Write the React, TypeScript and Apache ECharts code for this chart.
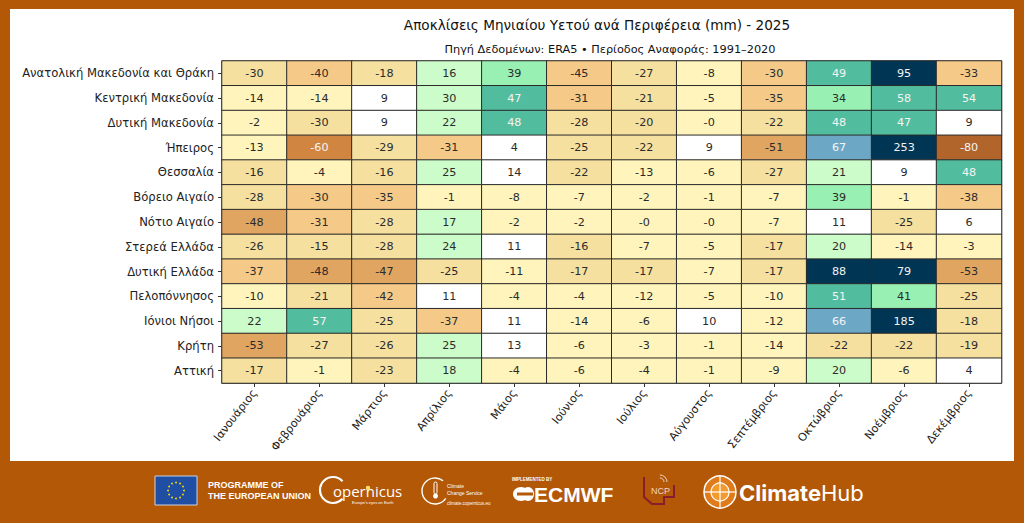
import React, { useEffect, useRef } from "react";
import * as echarts from "echarts";

const months = [
  "Ιανουάριος", "Φεβρουάριος", "Μάρτιος", "Απρίλιος", "Μάιος", "Ιούνιος",
  "Ιούλιος", "Αύγουστος", "Σεπτέμβριος", "Οκτώβριος", "Νοέμβριος", "Δεκέμβριος",
];

const regions = [
  "Ανατολική Μακεδονία και Θράκη", "Κεντρική Μακεδονία", "Δυτική Μακεδονία", "Ήπειρος",
  "Θεσσαλία", "Βόρειο Αιγαίο", "Νότιο Αιγαίο", "Στερεά Ελλάδα", "Δυτική Ελλάδα",
  "Πελοπόννησος", "Ιόνιοι Νήσοι", "Κρήτη", "Αττική",
];

// monthly precipitation anomalies (mm), one row per region
const anomalies: number[][] = [
  [-29.6, -40, -18, 16, 39, -44.6, -27, -8, -30.4, 49, 95, -33],
  [-14, -14, 9, 29.7, 47, -31, -21, -5, -35, 34, 58, 54],
  [-2, -29.8, 9, 22, 48, -28, -20, -0.3, -22, 48, 47, 9],
  [-13, -60.3, -29, -31, 4, -25, -22, 9, -51, 67, 253, -80],
  [-16, -4, -16, 25, 14, -22, -13, -6, -27, 21, 9, 48],
  [-28, -30.3, -35, -1, -8, -7, -2, -1, -7, 39, -1, -38],
  [-48, -31, -28, 17, -2, -2, -0.3, -0.3, -7, 11, -25, 6],
  [-26, -15.2, -28, 24, 11, -16, -7, -5, -17, 20, -14, -3],
  [-37, -48, -47, -25, -11, -17, -17, -7, -17, 88, 79, -53],
  [-10, -21, -42, 11, -4, -4, -12, -5, -10, 51, 41, -25],
  [22, 57, -25, -37, 11, -14, -6, 10, -12, 66, 185, -18],
  [-53, -27, -26, 25, 13, -6, -3, -1, -14, -22, -22, -19],
  [-17, -1, -23, 18, -4, -6, -4, -1, -9, 20, -6, 4],
];

const binEdges = [-75, -60, -45, -30, -15, 0, 15, 30, 45, 60, 75];
const binColors = [
  "#b1652b", "#d08540", "#e0a560", "#f5ca88", "#f5e0a0", "#fff4bb",
  "#ffffff", "#ccfcc9", "#98f0b2", "#52bd9e", "#6ca8c6", "#003554",
];

const title = "Αποκλίσεις Μηνιαίου Υετού ανά Περιφέρεια (mm) - 2025";
const subtitle = "Πηγή Δεδομένων: ERA5 • Περίοδος Αναφοράς: 1991–2020";

const FONT = "DejaVu Sans";

function fmt(v: number): string {
  const r = Math.round(v);
  if (r === 0 && v < 0) return "-0";
  return String(r);
}

function buildPieces() {
  const pieces: any[] = [];
  for (let i = 0; i < binColors.length; i++) {
    const p: any = { color: binColors[i] };
    if (i > 0) p.gte = binEdges[i - 1];
    if (i < binEdges.length) p.lt = binEdges[i];
    pieces.push(p);
  }
  return pieces;
}

function buildData() {
  const out: any[] = [];
  anomalies.forEach((row, yi) => {
    row.forEach((v, xi) => {
      const light = v < -60 || v >= 45;
      out.push({
        value: [xi, yi, v],
        label: { color: light ? "#f4f4f4" : "#2b2b2b" },
      });
    });
  });
  return out;
}

function graphics() {
  const g: any[] = [];
  // white panel
  g.push({ type: "rect", silent: true, z: -10, shape: { x: 10, y: 9, width: 1004, height: 452 }, style: { fill: "#ffffff" } });
  // titles
  g.push({ type: "text", style: { x: 597, y: 25, text: title, fill: "#111111", font: `13.6px "${FONT}"`, textAlign: "center", textVerticalAlign: "middle" } });
  g.push({ type: "text", style: { x: 610, y: 49, text: subtitle, fill: "#111111", font: `11.3px "${FONT}"`, textAlign: "center", textVerticalAlign: "middle" } });
  // EU flag
  g.push({ type: "rect", shape: { x: 155, y: 476, width: 42, height: 29 }, style: { fill: "#1f4ea3", stroke: "#c9d3e6", lineWidth: 1 } });
  for (let k = 0; k < 12; k++) {
    const a = (k * Math.PI) / 6;
    g.push({ type: "circle", shape: { cx: 176 + 8 * Math.cos(a), cy: 490.5 + 8 * Math.sin(a), r: 0.9 }, style: { fill: "#ffdd00" } });
  }
  g.push({ type: "text", style: { x: 208, y: 485, text: "PROGRAMME OF", fill: "#ffffff", font: 'bold 9px "Liberation Sans"', textVerticalAlign: "middle" } });
  g.push({ type: "text", style: { x: 208, y: 496, text: "THE EUROPEAN UNION", fill: "#ffffff", font: 'bold 9px "Liberation Sans"', textVerticalAlign: "middle" } });
  // Copernicus
  g.push({ type: "arc", shape: { cx: 333, cy: 490, r: 13, startAngle: 0.75, endAngle: 2 * Math.PI - 0.75, clockwise: true }, style: { stroke: "#ffffff", lineWidth: 2.2, fill: "none" } });
  g.push({ type: "text", style: { x: 333, y: 491, text: "opernicus", fill: "#ffffff", font: '15px "Open Sans"', textVerticalAlign: "middle" } });
  g.push({ type: "circle", shape: { cx: 368, cy: 488, r: 2.2 }, style: { fill: "#ffe066" } });
  g.push({ type: "text", style: { x: 352, y: 502, text: "Europe's eyes on Earth", fill: "#ffffff", font: '4px "Liberation Sans"', textVerticalAlign: "middle" } });
  // Climate Change Service
  g.push({ type: "arc", shape: { cx: 435, cy: 491, r: 13, startAngle: 0.6, endAngle: 2 * Math.PI - 0.9, clockwise: true }, style: { stroke: "#ffffff", lineWidth: 1.4, fill: "none" } });
  g.push({ type: "rect", shape: { x: 434, y: 482, width: 3, height: 12, r: 1.5 }, style: { fill: "none", stroke: "#ffffff", lineWidth: 1 } });
  g.push({ type: "circle", shape: { cx: 435.5, cy: 496, r: 2.5 }, style: { fill: "#ffffff" } });
  g.push({ type: "text", style: { x: 447, y: 486, text: "Climate", fill: "#ffffff", font: '5px "Liberation Sans"', textVerticalAlign: "middle" } });
  g.push({ type: "text", style: { x: 447, y: 493, text: "Change Service", fill: "#ffffff", font: '5px "Liberation Sans"', textVerticalAlign: "middle" } });
  g.push({ type: "text", style: { x: 447, y: 503, text: "climate.copernicus.eu", fill: "#ffffff", font: '4.5px "Liberation Sans"', textVerticalAlign: "middle" } });
  // ECMWF
  g.push({ type: "text", style: { x: 512, y: 479, text: "IMPLEMENTED BY", fill: "#ffffff", font: 'bold 4.5px "Liberation Sans"', textVerticalAlign: "middle" } });
  g.push({ type: "ellipse", shape: { cx: 521, cy: 494, rx: 8, ry: 7 }, style: { fill: "#ffffff" } });
  g.push({ type: "ellipse", shape: { cx: 528, cy: 494, rx: 6, ry: 7 }, style: { fill: "#ffffff" } });
  g.push({ type: "rect", shape: { x: 517, y: 492.5, width: 16, height: 3 }, style: { fill: "#b35806" } });
  g.push({ type: "text", style: { x: 534, y: 494, text: "ECMWF", fill: "#ffffff", font: 'bold 21px "Liberation Sans"', textVerticalAlign: "middle" } });
  // NCP
  g.push({ type: "polyline", shape: { points: [[644, 477], [644, 497], [652, 504], [664, 504], [664, 497], [674, 497], [674, 485]] }, style: { stroke: "#8b1c2c", lineWidth: 2, fill: "none" } });
  g.push({ type: "arc", shape: { cx: 660, cy: 482, r: 4, startAngle: -1.6, endAngle: 0, clockwise: true }, style: { stroke: "#f3d2c4", lineWidth: 1, fill: "none" } });
  g.push({ type: "arc", shape: { cx: 660, cy: 482, r: 7, startAngle: -1.6, endAngle: 0, clockwise: true }, style: { stroke: "#f3d2c4", lineWidth: 1, fill: "none" } });
  g.push({ type: "text", style: { x: 651, y: 491, text: "NCP", fill: "#f3d2c4", font: '9px "Liberation Sans"', textVerticalAlign: "middle" } });
  // ClimateHub
  g.push({ type: "circle", shape: { cx: 720, cy: 492, r: 16 }, style: { fill: "#e07b1c", stroke: "#ffffff", lineWidth: 1.5 } });
  g.push({ type: "circle", shape: { cx: 720, cy: 492, r: 9 }, style: { fill: "#f29a2e", stroke: "#ffffff", lineWidth: 1.2 } });
  g.push({ type: "line", shape: { x1: 720, y1: 476, x2: 720, y2: 508 }, style: { stroke: "#ffffff", lineWidth: 1.2 } });
  g.push({ type: "line", shape: { x1: 704, y1: 492, x2: 736, y2: 492 }, style: { stroke: "#ffffff", lineWidth: 1.2 } });
  g.push({ type: "text", style: { x: 739, y: 493, text: "{b|Climate}{n|Hub}", fill: "#ffffff", textVerticalAlign: "middle", rich: { b: { fontFamily: "Inter", fontWeight: "bold", fontSize: 22, color: "#ffffff" }, n: { fontFamily: "Inter", fontWeight: "normal", fontSize: 22, color: "#ffffff" } } } });
  return g;
}

export default function App() {
  const ref = useRef<HTMLDivElement>(null);
  useEffect(() => {
    if (!ref.current) return;
    const chart = echarts.init(ref.current, undefined, { renderer: "svg" });
    chart.setOption({
      animation: false,
      backgroundColor: "#b35806",
      textStyle: { fontFamily: FONT },
      grid: { left: 222, right: 22.5, top: 61, bottom: 140, show: true, borderColor: "#7a7a7a", borderWidth: 1.2, backgroundColor: "transparent" },
      xAxis: {
        type: "category",
        data: months,
        axisLine: { show: true, lineStyle: { color: "#7a7a7a", width: 1.2 } },
        axisTick: { show: true, alignWithLabel: true, length: 4, lineStyle: { color: "#333" } },
        axisLabel: { rotate: 52, margin: 8, fontSize: 11.2, color: "#222", fontFamily: FONT },
        splitArea: { show: false },
        splitLine: { show: false },
      },
      yAxis: {
        type: "category",
        data: regions,
        inverse: true,
        axisLine: { show: true, lineStyle: { color: "#7a7a7a", width: 1.2 } },
        axisTick: { show: true, alignWithLabel: true, length: 4, lineStyle: { color: "#333" } },
        axisLabel: { margin: 8, fontSize: 11.6, color: "#222", fontFamily: FONT },
        splitArea: { show: false },
        splitLine: { show: false },
      },
      visualMap: {
        type: "piecewise",
        show: false,
        dimension: 2,
        pieces: buildPieces(),
      },
      series: [
        {
          type: "heatmap",
          data: buildData(),
          label: {
            show: true,
            fontSize: 11.2,
            fontFamily: FONT,
            formatter: (p: any) => fmt(p.value[2]),
          },
          itemStyle: { borderColor: "#2a2a2a", borderWidth: 1 },
          emphasis: { disabled: true },
        },
      ],
      graphic: graphics(),
    });
    return () => chart.dispose();
  }, []);
  return <div ref={ref} style={{ position: "absolute", left: 0, top: 0, width: 1024, height: 523 }} />;
}
